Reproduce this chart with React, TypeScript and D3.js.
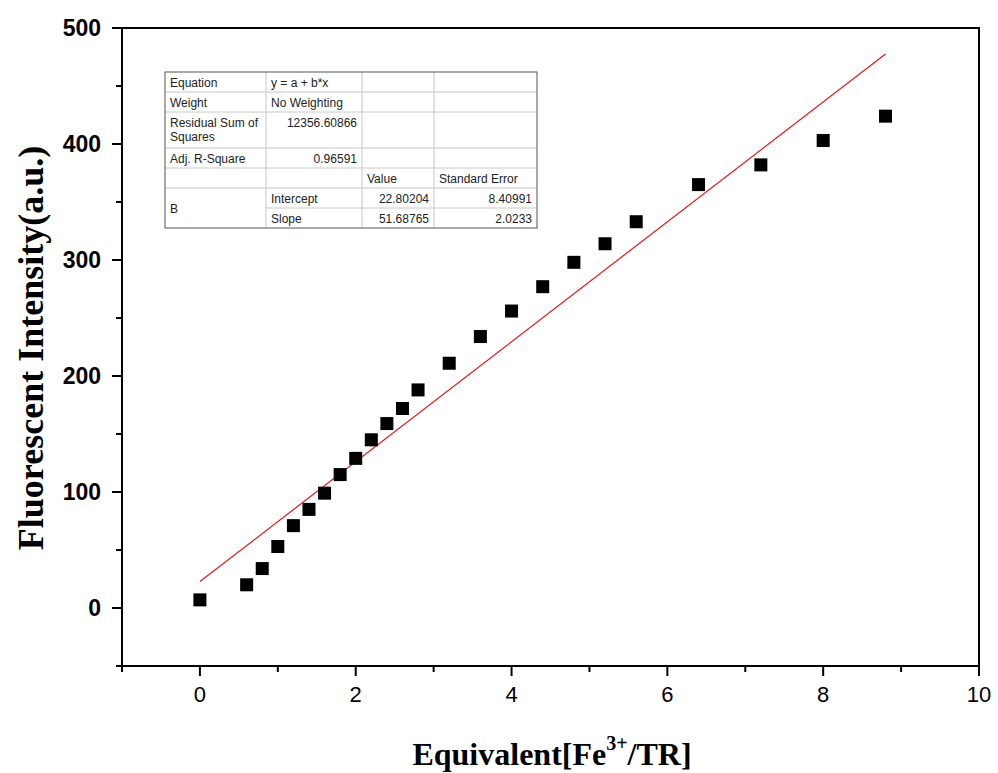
import React, { useEffect, useRef } from 'react';
import * as d3 from 'd3';

// Fe3+ titration data
const equivalents = [0, 0.6, 0.8, 1.0, 1.2, 1.4, 1.6, 1.8, 2.0, 2.2, 2.4, 2.6, 2.8, 3.2, 3.6, 4.0, 4.4, 4.8, 5.2, 5.6, 6.4, 7.2, 8.0, 8.8];
const intensities = [7, 20, 34, 53, 71, 85, 99, 115, 129, 145, 159, 172, 188, 211, 234, 256, 277, 298, 314, 333, 365, 382, 403, 424];

const fitIntercept = 22.80204;
const fitSlope = 51.68765;

const xTicks = [0, 2, 4, 6, 8, 10];
const xMinorTicks = [-1, 1, 3, 5, 7, 9];
const yTicks = [0, 100, 200, 300, 400, 500];
const yMinorTicks = [-50, 50, 150, 250, 350, 450];

// fit report table rows: [col1, col2, col3, col4]
const tableRows = [
  ['Equation', 'y = a + b*x', '', ''],
  ['Weight', 'No Weighting', '', ''],
  ['Residual Sum of|Squares', '12356.60866', '', ''],
  ['Adj. R-Square', '0.96591', '', ''],
  ['', '', 'Value', 'Standard Error'],
  ['B', 'Intercept', '22.80204', '8.40991'],
  ['', 'Slope', '51.68765', '2.0233'],
];

const W = 998;
const H = 773;
const PLOT = { left: 122, right: 979, top: 28, bottom: 666 };

const App = () => {
  const svgRef = useRef<SVGSVGElement | null>(null);

  useEffect(() => {
    if (!svgRef.current) return;
    const svg = d3.select(svgRef.current);
    svg.selectAll('*').remove();

    const x = d3.scaleLinear().domain([-1, 10]).range([PLOT.left, PLOT.right]);
    const y = d3.scaleLinear().domain([-50, 500]).range([PLOT.bottom, PLOT.top]);

    svg.append('rect').attr('width', W).attr('height', H).attr('fill', '#fff');

    // frame
    svg.append('rect')
      .attr('x', PLOT.left)
      .attr('y', PLOT.top)
      .attr('width', PLOT.right - PLOT.left)
      .attr('height', PLOT.bottom - PLOT.top)
      .attr('fill', 'none')
      .attr('stroke', '#000')
      .attr('stroke-width', 2);

    // x ticks
    const xAxisG = svg.append('g');
    xAxisG.selectAll('.major')
      .data(xTicks)
      .enter()
      .append('line')
      .attr('x1', d => x(d)).attr('x2', d => x(d))
      .attr('y1', PLOT.bottom).attr('y2', PLOT.bottom + 10)
      .attr('stroke', '#000').attr('stroke-width', 2);
    xAxisG.selectAll('.minor')
      .data(xMinorTicks)
      .enter()
      .append('line')
      .attr('x1', d => x(d)).attr('x2', d => x(d))
      .attr('y1', PLOT.bottom).attr('y2', PLOT.bottom + 6)
      .attr('stroke', '#000').attr('stroke-width', 2);
    xAxisG.selectAll('.lbl')
      .data(xTicks)
      .enter()
      .append('text')
      .attr('x', d => x(d))
      .attr('y', PLOT.bottom + 36)
      .attr('text-anchor', 'middle')
      .attr('font-family', 'Liberation Sans, Arial, sans-serif')
      .attr('font-size', '22px')
      .attr('fill', '#000')
      .text(d => d);

    // y ticks
    const yAxisG = svg.append('g');
    yAxisG.selectAll('.major')
      .data(yTicks)
      .enter()
      .append('line')
      .attr('x1', PLOT.left - 10).attr('x2', PLOT.left)
      .attr('y1', d => y(d)).attr('y2', d => y(d))
      .attr('stroke', '#000').attr('stroke-width', 2);
    yAxisG.selectAll('.minor')
      .data(yMinorTicks)
      .enter()
      .append('line')
      .attr('x1', PLOT.left - 6).attr('x2', PLOT.left)
      .attr('y1', d => y(d)).attr('y2', d => y(d))
      .attr('stroke', '#000').attr('stroke-width', 2);
    yAxisG.selectAll('.lbl')
      .data(yTicks)
      .enter()
      .append('text')
      .attr('x', PLOT.left - 21)
      .attr('y', d => y(d))
      .attr('dy', '0.35em')
      .attr('text-anchor', 'end')
      .attr('font-family', 'Liberation Sans, Arial, sans-serif')
      .attr('font-size', '23px')
      .attr('font-weight', 'bold')
      .attr('fill', '#000')
      .text(d => d);

    // axis titles
    const xTitle = svg.append('text')
      .attr('x', 552)
      .attr('y', 765)
      .attr('text-anchor', 'middle')
      .attr('font-family', 'Liberation Serif, Times New Roman, serif')
      .attr('font-size', '32px')
      .attr('font-weight', 'bold')
      .attr('fill', '#000');
    xTitle.append('tspan').text('Equivalent[Fe');
    xTitle.append('tspan').attr('dy', -15).attr('font-size', '20px').text('3+');
    xTitle.append('tspan').attr('dy', 15).text('/TR]');

    svg.append('text')
      .attr('transform', `translate(30, 348) rotate(-90)`)
      .attr('text-anchor', 'middle')
      .attr('dy', '0.35em')
      .attr('font-family', 'Liberation Serif, Times New Roman, serif')
      .attr('font-size', '36px')
      .attr('font-weight', 'bold')
      .attr('fill', '#000')
      .text('Fluorescent Intensity(a.u.)');

    // linear fit
    const xEnd = d3.max(equivalents) || 0;
    svg.append('line')
      .attr('x1', x(0)).attr('y1', y(fitIntercept))
      .attr('x2', x(xEnd)).attr('y2', y(fitIntercept + fitSlope * xEnd))
      .attr('stroke', '#e01a1a')
      .attr('stroke-width', 1.2);

    // markers
    const size = 13;
    svg.append('g')
      .selectAll('rect')
      .data(equivalents.map((e, i) => ({ e, v: intensities[i] })))
      .enter()
      .append('rect')
      .attr('x', d => x(d.e) - size / 2)
      .attr('y', d => y(d.v) - size / 2)
      .attr('width', size)
      .attr('height', size)
      .attr('fill', '#000');

    // fit report table
    const colX = [165, 266, 362, 434, 537];
    const rowY = [72, 92, 112, 148, 168, 188, 208, 228];
    const tbl = svg.append('g').attr('font-family', 'Liberation Sans, Arial, sans-serif').attr('font-size', '12px').attr('fill', '#222');

    tbl.append('rect')
      .attr('x', colX[0]).attr('y', rowY[0])
      .attr('width', colX[4] - colX[0]).attr('height', rowY[7] - rowY[0])
      .attr('fill', '#fff');

    // horizontal lines
    rowY.slice(1, 7).forEach((ry, i) => {
      const startX = i === 5 ? colX[1] : colX[0];
      tbl.append('line')
        .attr('x1', startX).attr('x2', colX[4])
        .attr('y1', ry).attr('y2', ry)
        .attr('stroke', '#c8c8c8').attr('stroke-width', 1);
    });
    colX.slice(1, 4).forEach(cx => {
      tbl.append('line')
        .attr('x1', cx).attr('x2', cx)
        .attr('y1', rowY[0]).attr('y2', rowY[7])
        .attr('stroke', '#c8c8c8').attr('stroke-width', 1);
    });
    tbl.append('rect')
      .attr('x', colX[0]).attr('y', rowY[0])
      .attr('width', colX[4] - colX[0]).attr('height', rowY[7] - rowY[0])
      .attr('fill', 'none')
      .attr('stroke', '#555').attr('stroke-width', 1);

    tableRows.forEach((row, ri) => {
      const top = rowY[ri];
      const base = top + 15;
      row.forEach((cell, ci) => {
        if (!cell) return;
        const numeric = /^[0-9.]+$/.test(cell);
        const t = tbl.append('text')
          .attr('x', numeric ? colX[ci + 1] - 5 : colX[ci] + 5)
          .attr('y', cell === 'B' ? top + 25 : base)
          .attr('text-anchor', numeric ? 'end' : 'start');
        const parts = cell.split('|');
        parts.forEach((p, pi) => {
          t.append('tspan')
            .attr('x', numeric ? colX[ci + 1] - 5 : colX[ci] + 5)
            .attr('dy', pi === 0 ? 0 : 14)
            .text(p);
        });
      });
    });
  }, []);

  return (
    <div style={{ position: 'fixed', left: 0, top: 0 }}>
      <svg ref={svgRef} width={W} height={H} style={{ display: 'block' }} />
    </div>
  );
};

export default App;
